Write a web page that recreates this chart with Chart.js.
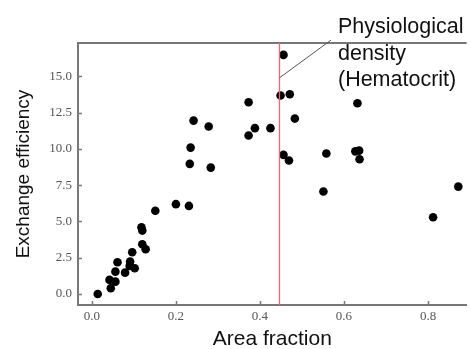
<!DOCTYPE html>
<html>
<head>
<meta charset="utf-8">
<script src="https://cdn.jsdelivr.net/npm/chart.js@4"></script>
<style>
  html, body { margin: 0; padding: 0; background: #fff; }
  #wrap { width: 471px; height: 349px; }
</style>
</head>
<body>
<div id="wrap"><canvas id="chart"></canvas></div>
<script>
const areaFraction = [0.014, 0.042, 0.045, 0.056, 0.056, 0.061, 0.079, 0.090, 0.091, 0.096,
  0.102, 0.118, 0.120, 0.120, 0.128, 0.151, 0.200, 0.231, 0.233, 0.235,
  0.242, 0.278, 0.283, 0.373, 0.373, 0.388, 0.425, 0.449, 0.456, 0.471,
  0.483, 0.456, 0.469, 0.551, 0.558, 0.627, 0.636, 0.637, 0.632, 0.812, 0.872];
const exchangeEff = [0.00, 0.97, 0.39, 0.85, 1.54, 2.19, 1.47, 1.93, 2.23, 2.88,
  1.77, 4.60, 4.37, 3.43, 3.08, 5.74, 6.19, 6.07, 8.97, 10.09,
  11.95, 11.54, 8.71, 13.22, 10.92, 11.43, 11.43, 13.68, 16.48, 13.77,
  12.09, 9.59, 9.20, 7.06, 9.68, 9.83, 9.88, 9.29, 13.15, 5.29, 7.40];

const xTicks = [0, 0.2, 0.4, 0.6, 0.8];
const yTicks = [0, 2.5, 5, 7.5, 10, 12.5, 15];

const hematocrit = 0.446;
const noteLines = ['Physiological', 'density', '(Hematocrit)'];

const AXIS_COLOR = '#777';
const TICK_FONT = { family: "'Liberation Serif', 'Times New Roman', serif", size: 13 };
const TITLE_FAMILY = "'Liberation Sans', Arial, sans-serif";

// inward ticks, top frame line, red marker line + annotation
const extras = {
  id: 'extras',
  afterDatasetsDraw(chart) {
    const { ctx, chartArea: a, scales: { x, y } } = chart;
    ctx.save();
    ctx.strokeStyle = AXIS_COLOR;
    ctx.lineWidth = 1.5;
    ctx.beginPath();
    xTicks.forEach(v => {
      const px = Math.round(x.getPixelForValue(v)) + 0.5;
      ctx.moveTo(px, a.bottom); ctx.lineTo(px, a.bottom - 4);
    });
    yTicks.forEach(v => {
      const py = Math.round(y.getPixelForValue(v)) + 0.5;
      ctx.moveTo(a.left, py); ctx.lineTo(a.left + 4, py);
    });
    ctx.stroke();

    ctx.lineWidth = 2;
    ctx.beginPath();
    ctx.moveTo(a.left - 1, a.top);
    ctx.lineTo(a.right, a.top);
    ctx.stroke();

    const hx = Math.round(x.getPixelForValue(hematocrit)) + 0.5;
    ctx.strokeStyle = '#ff6464';
    ctx.lineWidth = 1.3;
    ctx.beginPath();
    ctx.moveTo(hx, a.top);
    ctx.lineTo(hx, a.bottom);
    ctx.stroke();

    // leader line from the marker to the note
    const lx0 = hx, ly0 = y.getPixelForValue(14.9);
    const lx1 = x.getPixelForValue(0.569), ly1 = y.getPixelForValue(17.5);
    ctx.strokeStyle = '#555';
    ctx.lineWidth = 1;
    ctx.beginPath();
    ctx.moveTo(lx0, ly0);
    ctx.lineTo(lx1, ly1);
    ctx.stroke();

    ctx.fillStyle = '#111';
    ctx.font = '21.5px ' + TITLE_FAMILY;
    ctx.textAlign = 'left';
    ctx.textBaseline = 'alphabetic';
    noteLines.forEach((t, i) => ctx.fillText(t, lx1 + 7, 33 + i * 26.5));
    ctx.restore();
  }
};

new Chart(document.getElementById('chart'), {
  type: 'scatter',
  data: {
    datasets: [{
      data: areaFraction.map((v, i) => ({ x: v, y: exchangeEff[i] })),
      backgroundColor: '#000',
      borderColor: '#000',
      pointRadius: 4.3,
      pointHoverRadius: 4.3,
      borderWidth: 0
    }]
  },
  options: {
    responsive: true,
    maintainAspectRatio: false,
    animation: false,
    events: [],
    layout: { padding: { top: 43, right: 0, left: 0, bottom: 0 } },
    plugins: { legend: { display: false }, tooltip: { enabled: false } },
    scales: {
      x: {
        type: 'linear',
        min: -0.033,
        max: 0.892,
        afterBuildTicks: s => { s.ticks = xTicks.map(v => ({ value: v })); },
        afterFit: s => { s.height = 44; },
        grid: { display: true, drawOnChartArea: false, drawTicks: false },
        border: { display: true, color: AXIS_COLOR, width: 2 },
        ticks: { color: '#555', font: TICK_FONT, padding: 4, maxRotation: 0,
                 callback: v => v.toFixed(1) },
        title: { display: true, text: 'Area fraction', color: '#111',
                 font: { family: TITLE_FAMILY, size: 21, lineHeight: 1 }, padding: { top: 0, bottom: -1 } }
      },
      y: {
        type: 'linear',
        min: -0.76,
        max: 17.3,
        afterBuildTicks: s => { s.ticks = yTicks.map(v => ({ value: v })); },
        afterFit: s => { s.width = 78; },
        grid: { display: true, drawOnChartArea: false, drawTicks: false },
        border: { display: true, color: AXIS_COLOR, width: 2 },
        ticks: { color: '#555', font: TICK_FONT, padding: 6,
                 callback: v => v.toFixed(1) },
        title: { display: true, text: 'Exchange efficiency', color: '#111',
                 font: { family: TITLE_FAMILY, size: 19, lineHeight: 1.2 }, padding: { top: 12, bottom: 0 } }
      }
    }
  },
  plugins: [extras]
});
</script>
</body>
</html>
